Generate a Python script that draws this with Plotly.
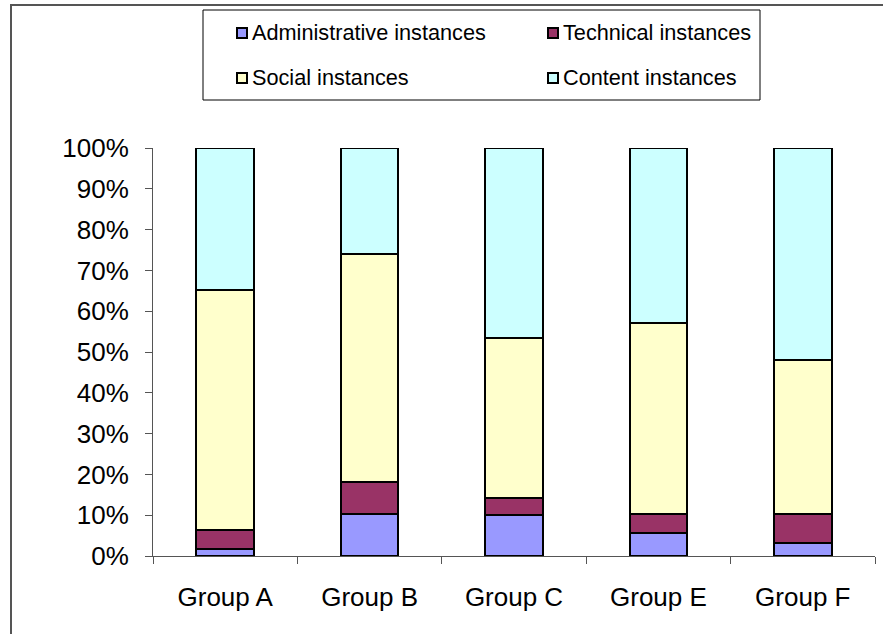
import plotly.graph_objects as go

# Share of instances per group (percent of all instances)
groups = ["Group A", "Group B", "Group C", "Group E", "Group F"]
administrative = [1.8, 10.4, 10.1, 5.7, 3.2]
technical = [4.5, 7.8, 4.0, 4.7, 7.0]
social = [58.9, 55.8, 39.3, 46.6, 37.8]
content = [34.8, 26.0, 46.6, 43.0, 52.0]

series_names = ["Administrative instances", "Technical instances",
                "Social instances", "Content instances"]
series_values = [administrative, technical, social, content]
series_colors = ["#9999FF", "#993366", "#FFFFCC", "#CCFFFF"]

W, H = 883, 634
L, R, T, B = 153, 8, 148, 78
PW, PH = W - L - R, H - T - B
FONT = "Arial, Liberation Sans, sans-serif"


def px(x):
    return (x - L) / PW


def py(y):
    return (H - B - y) / PH


fig = go.Figure()
for name, vals, col in zip(series_names, series_values, series_colors):
    fig.add_trace(go.Bar(
        x=groups, y=vals, name=name, width=0.4,
        marker=dict(color=col, line=dict(color="#000000", width=2)),
        showlegend=False,
    ))

shapes = []
annotations = []

# chart area frame
shapes.append(dict(type="rect", xref="paper", yref="paper",
                   x0=px(11), x1=px(W + 20), y0=py(H + 20), y1=py(5),
                   line=dict(color="#555555", width=2), layer="below"))

# legend box
shapes.append(dict(type="rect", xref="paper", yref="paper",
                   x0=px(203), x1=px(760), y0=py(100), y1=py(10),
                   line=dict(color="#000000", width=1), fillcolor="white"))

legend_slots = [(237, 33), (548, 33), (237, 78), (548, 78)]
for (lx, ly), name, col in zip(legend_slots, series_names, series_colors):
    shapes.append(dict(type="rect", xref="paper", yref="paper",
                       x0=px(lx), x1=px(lx + 10), y0=py(ly + 5), y1=py(ly - 5),
                       line=dict(color="#000000", width=2), fillcolor=col))
    annotations.append(dict(xref="paper", yref="paper", x=px(lx + 13), y=py(ly),
                            xanchor="left", yanchor="middle", showarrow=False,
                            text=name, font=dict(family=FONT, size=21.7, color="#000000")))

fig.update_layout(
    width=W, height=H,
    margin=dict(l=L, r=R, t=T, b=B, pad=0),
    barmode="stack", barnorm="percent",
    paper_bgcolor="white", plot_bgcolor="white",
    font=dict(family=FONT, color="#000000"),
    shapes=shapes, annotations=annotations,
    xaxis=dict(showline=True, linecolor="#555555", linewidth=1,
               ticks="outside", ticklen=7, tickcolor="#555555",
               tickson="boundaries", showgrid=False,
               tickfont=dict(size=26, family=FONT, color="#000000"),
               ticklabelstandoff=18),
    yaxis=dict(range=[0, 100], dtick=10, ticksuffix="%",
               showline=True, linecolor="#555555", linewidth=1,
               ticks="outside", ticklen=7, tickcolor="#555555",
               showgrid=False, zeroline=False,
               tickfont=dict(size=26, family=FONT, color="#000000"),
               ticklabelstandoff=11),
)

fig.write_html("out.html")
